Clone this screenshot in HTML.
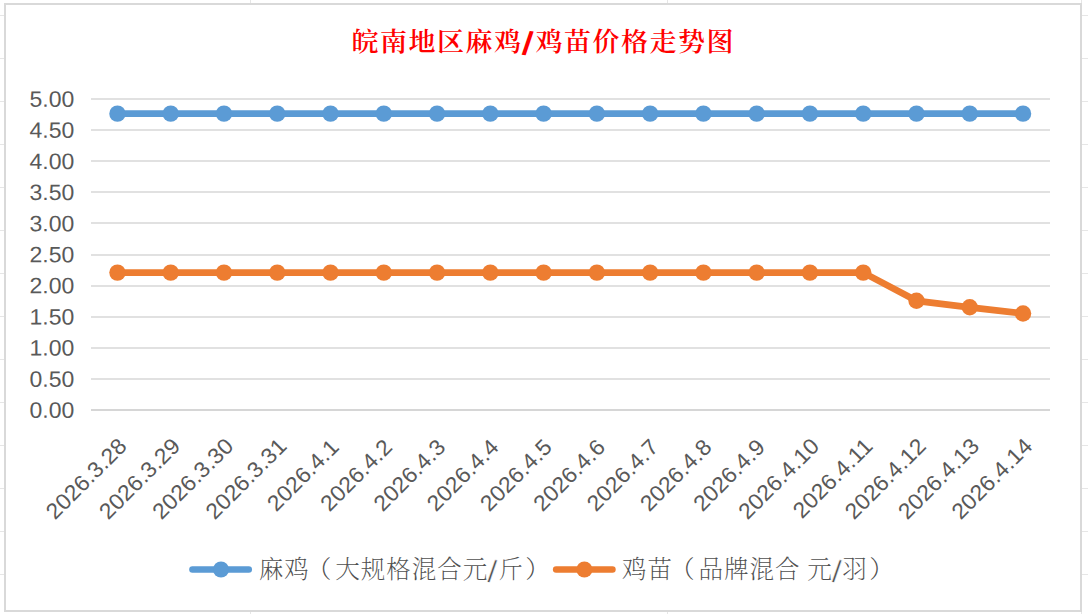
<!DOCTYPE html>
<html lang="zh-CN">
<head>
<meta charset="utf-8">
<title>皖南地区麻鸡/鸡苗价格走势图</title>
<style>
html,body{margin:0;padding:0;background:#fff;}
body{width:1088px;height:614px;overflow:hidden;}
svg{display:block;}
.lat{font-family:"Liberation Sans",sans-serif;}
.cjk{font-family:"Liberation Serif","Noto Serif CJK SC",serif;}
.ttl{font-family:"Noto Serif CJK SC","Liberation Serif",serif;}
</style>
</head>
<body>
<svg width="1088" height="614" viewBox="0 0 1088 614">
<rect x="0" y="0" width="1088" height="614" fill="#ffffff"/>
<g fill="#E6E6E6">
<rect x="0" y="15" width="1088" height="1"/>
<rect x="0" y="58" width="1088" height="1"/>
<rect x="0" y="101" width="1088" height="1"/>
<rect x="0" y="144" width="1088" height="1"/>
<rect x="0" y="187" width="1088" height="1"/>
<rect x="0" y="230" width="1088" height="1"/>
<rect x="0" y="273" width="1088" height="1"/>
<rect x="0" y="316" width="1088" height="1"/>
<rect x="0" y="359" width="1088" height="1"/>
<rect x="0" y="402" width="1088" height="1"/>
<rect x="0" y="445" width="1088" height="1"/>
<rect x="0" y="488" width="1088" height="1"/>
<rect x="0" y="531" width="1088" height="1"/>
<rect x="0" y="574" width="1088" height="1"/>
<rect x="250" y="0" width="1" height="614"/>
<rect x="667" y="0" width="1" height="614"/>
<rect x="1081" y="0" width="1" height="614"/>
</g>
<rect x="5" y="4" width="1076" height="607" fill="#ffffff" stroke="#D9D9D9" stroke-width="2"/>
<text class="ttl" font-size="27" font-weight="600" fill="#FF0000" text-anchor="middle" transform="translate(0 51.2) scale(1 0.975)" x="364.95 393.45 421.95 450.45 478.95 507.45" y="0">皖南地区麻鸡<tspan class="lat" text-anchor="start" font-size="33.8" font-weight="bold" x="521.6" y="2.77" rotate="7.5">/</tspan><tspan x="548.95 577.45 605.95 634.45 662.95 691.45 719.95" y="0">鸡苗价格走势图</tspan></text>
<g fill="#E1E1E1">
<rect x="91" y="98" width="959" height="2"/>
<rect x="91" y="129" width="959" height="2"/>
<rect x="91" y="160" width="959" height="2"/>
<rect x="91" y="191" width="959" height="2"/>
<rect x="91" y="222" width="959" height="2"/>
<rect x="91" y="254" width="959" height="2"/>
<rect x="91" y="285" width="959" height="2"/>
<rect x="91" y="316" width="959" height="2"/>
<rect x="91" y="347" width="959" height="2"/>
<rect x="91" y="378" width="959" height="2"/>
<rect x="91" y="409" width="959" height="2" fill="#D6D6D6"/>
</g>
<g class="lat" font-size="22.2" fill="#595959" text-anchor="end">
<text transform="translate(74.3 106.75) rotate(0.03) scale(1.037 1)">5.00</text>
<text transform="translate(74.3 137.85) rotate(0.03) scale(1.037 1)">4.50</text>
<text transform="translate(74.3 168.95) rotate(0.03) scale(1.037 1)">4.00</text>
<text transform="translate(74.3 200.05) rotate(0.03) scale(1.037 1)">3.50</text>
<text transform="translate(74.3 231.15) rotate(0.03) scale(1.037 1)">3.00</text>
<text transform="translate(74.3 262.25) rotate(0.03) scale(1.037 1)">2.50</text>
<text transform="translate(74.3 293.35) rotate(0.03) scale(1.037 1)">2.00</text>
<text transform="translate(74.3 324.45) rotate(0.03) scale(1.037 1)">1.50</text>
<text transform="translate(74.3 355.55) rotate(0.03) scale(1.037 1)">1.00</text>
<text transform="translate(74.3 386.65) rotate(0.03) scale(1.037 1)">0.50</text>
<text transform="translate(74.3 417.75) rotate(0.03) scale(1.037 1)">0.00</text>
</g>
<polyline points="117.45,113.65 170.72,113.65 223.99,113.65 277.26,113.65 330.53,113.65 383.8,113.65 437.07,113.65 490.34,113.65 543.61,113.65 596.88,113.65 650.15,113.65 703.42,113.65 756.69,113.65 809.96,113.65 863.23,113.65 916.5,113.65 969.77,113.65 1023.04,113.65" fill="none" stroke="#5B9BD5" stroke-width="6.7" stroke-linejoin="round" stroke-linecap="round"/>
<g fill="#5B9BD5">
<circle cx="117.45" cy="113.65" r="8.2"/>
<circle cx="170.72" cy="113.65" r="8.2"/>
<circle cx="223.99" cy="113.65" r="8.2"/>
<circle cx="277.26" cy="113.65" r="8.2"/>
<circle cx="330.53" cy="113.65" r="8.2"/>
<circle cx="383.8" cy="113.65" r="8.2"/>
<circle cx="437.07" cy="113.65" r="8.2"/>
<circle cx="490.34" cy="113.65" r="8.2"/>
<circle cx="543.61" cy="113.65" r="8.2"/>
<circle cx="596.88" cy="113.65" r="8.2"/>
<circle cx="650.15" cy="113.65" r="8.2"/>
<circle cx="703.42" cy="113.65" r="8.2"/>
<circle cx="756.69" cy="113.65" r="8.2"/>
<circle cx="809.96" cy="113.65" r="8.2"/>
<circle cx="863.23" cy="113.65" r="8.2"/>
<circle cx="916.5" cy="113.65" r="8.2"/>
<circle cx="969.77" cy="113.65" r="8.2"/>
<circle cx="1023.04" cy="113.65" r="8.2"/>
</g>
<polyline points="117.45,272.6 170.72,272.6 223.99,272.6 277.26,272.6 330.53,272.6 383.8,272.6 437.07,272.6 490.34,272.6 543.61,272.6 596.88,272.6 650.15,272.6 703.42,272.6 756.69,272.6 809.96,272.6 863.23,272.6 916.5,300.8 969.77,307.3 1023.04,313.45" fill="none" stroke="#ED7D31" stroke-width="6.7" stroke-linejoin="round" stroke-linecap="round"/>
<g fill="#ED7D31">
<circle cx="117.45" cy="272.6" r="8.2"/>
<circle cx="170.72" cy="272.6" r="8.2"/>
<circle cx="223.99" cy="272.6" r="8.2"/>
<circle cx="277.26" cy="272.6" r="8.2"/>
<circle cx="330.53" cy="272.6" r="8.2"/>
<circle cx="383.8" cy="272.6" r="8.2"/>
<circle cx="437.07" cy="272.6" r="8.2"/>
<circle cx="490.34" cy="272.6" r="8.2"/>
<circle cx="543.61" cy="272.6" r="8.2"/>
<circle cx="596.88" cy="272.6" r="8.2"/>
<circle cx="650.15" cy="272.6" r="8.2"/>
<circle cx="703.42" cy="272.6" r="8.2"/>
<circle cx="756.69" cy="272.6" r="8.2"/>
<circle cx="809.96" cy="272.6" r="8.2"/>
<circle cx="863.23" cy="272.6" r="8.2"/>
<circle cx="916.5" cy="300.8" r="8.2"/>
<circle cx="969.77" cy="307.3" r="8.2"/>
<circle cx="1023.04" cy="313.45" r="8.2"/>
</g>
<g class="lat" font-size="22.2" fill="#595959" text-anchor="end" letter-spacing="0.12">
<text transform="translate(128.25 447.4) rotate(-45) scale(1.037 1)">2026.3.28</text>
<text transform="translate(181.52 447.4) rotate(-45) scale(1.037 1)">2026.3.29</text>
<text transform="translate(234.79 447.4) rotate(-45) scale(1.037 1)">2026.3.30</text>
<text transform="translate(288.06 447.4) rotate(-45) scale(1.037 1)">2026.3.31</text>
<text transform="translate(340.33 448.4) rotate(-45) scale(1.037 1)">2026.4.1</text>
<text transform="translate(393.6 448.4) rotate(-45) scale(1.037 1)">2026.4.2</text>
<text transform="translate(446.87 448.4) rotate(-45) scale(1.037 1)">2026.4.3</text>
<text transform="translate(500.14 448.4) rotate(-45) scale(1.037 1)">2026.4.4</text>
<text transform="translate(553.41 448.4) rotate(-45) scale(1.037 1)">2026.4.5</text>
<text transform="translate(606.68 448.4) rotate(-45) scale(1.037 1)">2026.4.6</text>
<text transform="translate(659.95 448.4) rotate(-45) scale(1.037 1)">2026.4.7</text>
<text transform="translate(713.22 448.4) rotate(-45) scale(1.037 1)">2026.4.8</text>
<text transform="translate(766.49 448.4) rotate(-45) scale(1.037 1)">2026.4.9</text>
<text transform="translate(820.76 447.4) rotate(-45) scale(1.037 1)">2026.4.10</text>
<text transform="translate(874.03 447.4) rotate(-45) scale(1.037 1)">2026.4.11</text>
<text transform="translate(927.3 447.4) rotate(-45) scale(1.037 1)">2026.4.12</text>
<text transform="translate(980.57 447.4) rotate(-45) scale(1.037 1)">2026.4.13</text>
<text transform="translate(1033.84 447.4) rotate(-45) scale(1.037 1)">2026.4.14</text>
</g>
<line x1="192.4" y1="569.5" x2="248.8" y2="569.5" stroke="#5B9BD5" stroke-width="6.4" stroke-linecap="round"/>
<circle cx="221" cy="569.5" r="8" fill="#5B9BD5"/>
<line x1="556.1" y1="569.5" x2="612.5" y2="569.5" stroke="#ED7D31" stroke-width="6.4" stroke-linecap="round"/>
<circle cx="584.4" cy="569.5" r="8" fill="#ED7D31"/>
<text class="cjk" font-size="24.6" font-weight="200" fill="#4F4F4F" text-anchor="middle" x="271 296.5 319 347.5 373 398.5 424 449.5 475" y="578">麻鸡（大规格混合元<tspan class="lat" text-anchor="start" font-size="31" font-weight="400" stroke="#ffffff" stroke-width="0.5" x="487.35" y="581.8" rotate="4">/</tspan><tspan x="510.5 537.5" y="578">斤）</tspan></text>
<text class="cjk" font-size="24.6" font-weight="200" fill="#4F4F4F" text-anchor="middle" x="634.25 659.75 682.25 710.75 736.25 761.75 787.25 803.35 819.45" y="578">鸡苗（品牌混合 元<tspan class="lat" text-anchor="start" font-size="31" font-weight="400" stroke="#ffffff" stroke-width="0.5" x="831.8" y="581.8" rotate="4">/</tspan><tspan x="854.65 881.65" y="578">羽）</tspan></text>
</svg>
</body>
</html>
